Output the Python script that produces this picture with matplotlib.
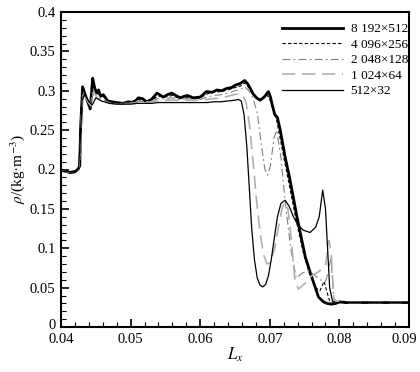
import numpy as np
import matplotlib
matplotlib.use("Agg")
import matplotlib.pyplot as plt
from matplotlib.ticker import MultipleLocator
from matplotlib.transforms import ScaledTranslation

plt.rcParams['font.family'] = ['Liberation Serif', 'DejaVu Serif']
plt.rcParams['mathtext.fontset'] = 'stix'

# ---- data ----
labels = ["8 192×512", "4 096×256", "2 048×128", "1 024×64", "512×32"]
x_ticks = [0.04, 0.05, 0.06, 0.07, 0.08, 0.09]
x_ticklabels = ['0.04', '0.05', '0.06', '0.07', '0.08', '0.09']
y_ticks = [0, 0.05, 0.1, 0.15, 0.2, 0.25, 0.3, 0.35, 0.4]
y_ticklabels = ['0', '0.05', '0.1', '0.15', '0.2', '0.25', '0.3', '0.35', '0.4']

x_8192 = [0.040, 0.041, 0.0413, 0.042, 0.0425, 0.0427, 0.0428, 0.0431, 0.0436, 0.0442, 0.04455,
          0.0448, 0.0451, 0.0454, 0.0457, 0.0461, 0.0467, 0.0473, 0.0480, 0.0489, 0.0497, 0.0505,
          0.0511, 0.0517, 0.0523, 0.0530, 0.0538, 0.0547, 0.0553, 0.0559, 0.0565, 0.0571, 0.0577,
          0.0582, 0.0590, 0.0600, 0.0609, 0.0617, 0.0624, 0.0631, 0.0638, 0.0645, 0.0650, 0.0657,
          0.0664, 0.0668, 0.0672, 0.0676, 0.0681, 0.0686, 0.0692, 0.0698, 0.0701, 0.0703, 0.0707,
          0.0711, 0.0715, 0.0722, 0.0729, 0.0739, 0.0751, 0.0760, 0.0770, 0.0777, 0.0782, 0.0788,
          0.0795, 0.0800, 0.0810, 0.0900]
y_8192 = [0.199, 0.197, 0.196, 0.197, 0.201, 0.205, 0.250, 0.305, 0.292, 0.277, 0.316,
          0.305, 0.297, 0.301, 0.293, 0.295, 0.287, 0.286, 0.285, 0.284, 0.286, 0.285,
          0.291, 0.290, 0.286, 0.289, 0.297, 0.292, 0.295, 0.297, 0.294, 0.291, 0.293,
          0.294, 0.291, 0.292, 0.299, 0.298, 0.301, 0.300, 0.303, 0.304, 0.307, 0.309,
          0.313, 0.309, 0.303, 0.296, 0.291, 0.288, 0.292, 0.299, 0.292, 0.284, 0.270,
          0.266, 0.250, 0.216, 0.187, 0.140, 0.089, 0.064, 0.038, 0.032, 0.030, 0.029,
          0.030, 0.032, 0.031, 0.031]

x_4096 = [0.040, 0.041, 0.042, 0.0425, 0.0427, 0.0429, 0.0432, 0.0437, 0.0442, 0.0446, 0.0449,
          0.0452, 0.0456, 0.0462, 0.0470, 0.0480, 0.0490, 0.0500, 0.0510, 0.0520, 0.0530, 0.0540,
          0.0550, 0.0560, 0.0570, 0.0580, 0.0590, 0.0600, 0.0610, 0.0620, 0.0630, 0.0640, 0.0650,
          0.0658, 0.0664, 0.0670, 0.0676, 0.0682, 0.0688, 0.0694, 0.0699, 0.0704, 0.0710, 0.0718,
          0.0728, 0.0738, 0.0748, 0.0758, 0.0766, 0.0772, 0.0778, 0.0782, 0.0786, 0.0792, 0.0800,
          0.0900]
y_4096 = [0.199, 0.197, 0.198, 0.201, 0.212, 0.280, 0.301, 0.290, 0.280, 0.310, 0.300,
          0.297, 0.294, 0.292, 0.286, 0.284, 0.284, 0.286, 0.289, 0.287, 0.288, 0.293,
          0.292, 0.294, 0.290, 0.292, 0.290, 0.291, 0.296, 0.298, 0.299, 0.301, 0.304,
          0.306, 0.310, 0.304, 0.295, 0.289, 0.289, 0.295, 0.292, 0.278, 0.262, 0.225,
          0.180, 0.135, 0.095, 0.065, 0.050, 0.046, 0.058, 0.045, 0.033, 0.030, 0.031,
          0.031]

x_2048 = [0.040, 0.041, 0.042, 0.0425, 0.0427, 0.0429, 0.0432, 0.0437, 0.0442, 0.0446, 0.0450,
          0.0455, 0.0462, 0.0470, 0.0480, 0.0490, 0.0500, 0.0510, 0.0520, 0.0530, 0.0540, 0.0550,
          0.0560, 0.0570, 0.0580, 0.0590, 0.0600, 0.0610, 0.0620, 0.0630, 0.0640, 0.0650, 0.0658,
          0.0664, 0.0670, 0.0676, 0.0682, 0.0688, 0.0693, 0.0697, 0.0701, 0.0706, 0.0710, 0.0716,
          0.0722, 0.0730, 0.0738, 0.0746, 0.0755, 0.0764, 0.0772, 0.0780, 0.0784, 0.0788, 0.0792,
          0.0800, 0.0900]
y_2048 = [0.198, 0.197, 0.198, 0.200, 0.210, 0.270, 0.299, 0.288, 0.281, 0.302, 0.294,
          0.291, 0.288, 0.285, 0.284, 0.284, 0.285, 0.287, 0.286, 0.287, 0.290, 0.290,
          0.291, 0.289, 0.290, 0.289, 0.289, 0.292, 0.294, 0.295, 0.297, 0.300, 0.302,
          0.305, 0.300, 0.290, 0.272, 0.230, 0.200, 0.193, 0.205, 0.240, 0.250, 0.215,
          0.160, 0.100, 0.062, 0.068, 0.072, 0.066, 0.060, 0.058, 0.070, 0.088, 0.035,
          0.031, 0.031]

x_1024 = [0.040, 0.041, 0.042, 0.0425, 0.0428, 0.0430, 0.0433, 0.0438, 0.0443, 0.0447, 0.0452,
          0.0460, 0.0470, 0.0480, 0.0490, 0.0500, 0.0510, 0.0520, 0.0530, 0.0540, 0.0550, 0.0560,
          0.0570, 0.0580, 0.0590, 0.0600, 0.0610, 0.0620, 0.0630, 0.0640, 0.0648, 0.0655, 0.0661,
          0.0666, 0.0671, 0.0676, 0.0681, 0.0686, 0.0691, 0.0696, 0.0701, 0.0707, 0.0713, 0.0718,
          0.0722, 0.0726, 0.0731, 0.0736, 0.0741, 0.0750, 0.0760, 0.0770, 0.0780, 0.0785, 0.0788,
          0.0792, 0.0800, 0.0900]
y_1024 = [0.198, 0.197, 0.198, 0.200, 0.230, 0.285, 0.298, 0.287, 0.281, 0.298, 0.291,
          0.287, 0.284, 0.283, 0.283, 0.284, 0.285, 0.285, 0.286, 0.287, 0.288, 0.288,
          0.288, 0.288, 0.288, 0.288, 0.289, 0.290, 0.291, 0.293, 0.295, 0.296, 0.294,
          0.285, 0.255, 0.210, 0.160, 0.120, 0.092, 0.080, 0.082, 0.100, 0.130, 0.152,
          0.158, 0.150, 0.110, 0.060, 0.048, 0.055, 0.065, 0.070, 0.078, 0.110, 0.095,
          0.035, 0.031, 0.031]

x_512 = [0.040, 0.041, 0.042, 0.0425, 0.0428, 0.0430, 0.0434, 0.0440, 0.0445, 0.0450, 0.0458,
         0.0470, 0.0480, 0.0490, 0.0500, 0.0510, 0.0520, 0.0530, 0.0540, 0.0550, 0.0560, 0.0570,
         0.0580, 0.0590, 0.0600, 0.0610, 0.0620, 0.0630, 0.0640, 0.0650, 0.0655, 0.0659, 0.0663,
         0.0667, 0.0671, 0.0674, 0.0678, 0.0682, 0.0686, 0.0690, 0.0694, 0.0698, 0.0702, 0.0706,
         0.0711, 0.0716, 0.0722, 0.0728, 0.0734, 0.0740, 0.0748, 0.0758, 0.0766, 0.0771, 0.0776,
         0.0780, 0.0783, 0.0786, 0.0790, 0.0795, 0.0900]
y_512 = [0.198, 0.197, 0.198, 0.200, 0.240, 0.287, 0.296, 0.286, 0.282, 0.291, 0.287,
         0.284, 0.283, 0.283, 0.283, 0.284, 0.284, 0.284, 0.285, 0.285, 0.285, 0.285,
         0.285, 0.285, 0.285, 0.285, 0.286, 0.286, 0.287, 0.288, 0.289, 0.287, 0.270,
         0.229, 0.170, 0.125, 0.085, 0.062, 0.053, 0.051, 0.054, 0.065, 0.085, 0.110,
         0.140, 0.157, 0.161, 0.153, 0.140, 0.130, 0.123, 0.120, 0.127, 0.140, 0.174,
         0.150, 0.100, 0.050, 0.033, 0.031, 0.031]

series = [
    (x_8192, y_8192, dict(color='black', lw=2.0, ls='-')),
    (x_4096, y_4096, dict(color='black', lw=0.8, ls=(0, (3, 2)))),
    (x_2048, y_2048, dict(color='#808080', lw=0.8, ls=(0, (7, 3, 1.5, 3)))),
    (x_1024, y_1024, dict(color='#b0b0b0', lw=1.2, ls=(0, (8, 4)))),
    (x_512, y_512, dict(color='black', lw=0.9, ls='-')),
]

fig = plt.figure(figsize=(4.2, 3.72), dpi=100)
ax = fig.add_axes([61/420, 1-327/372, 348/420, 315/372])

for (xs, ys, st), lab in zip(series, labels):
    ax.plot(xs, ys, label=lab, **st)

ax.set_xlim(0.04, 0.09)
ax.set_ylim(0, 0.4)
ax.set_xticks(x_ticks)
ax.set_xticklabels(x_ticklabels)
ax.set_yticks(y_ticks)
ax.set_yticklabels(y_ticklabels)
ax.xaxis.set_minor_locator(MultipleLocator(0.002))
ax.yaxis.set_minor_locator(MultipleLocator(0.01))

ax.tick_params(which='both', direction='in', top=False, right=False, labelsize=10.5)
ax.tick_params(which='major', length=6, width=1.2)
ax.tick_params(which='minor', length=3.5, width=0.8)
ax.tick_params(axis='x', pad=4)
ax.tick_params(axis='y', pad=4)
for s in ax.spines.values():
    s.set_linewidth(1.5)

# nudge the "0" y label up and the "0.09" x label left, as in the reference
lab0 = ax.get_yticklabels()[0]
lab0.set_transform(lab0.get_transform() + ScaledTranslation(0, 3/100, fig.dpi_scale_trans))
labx = ax.get_xticklabels()[-1]
labx.set_transform(labx.get_transform() + ScaledTranslation(-5/100, 0, fig.dpi_scale_trans))

ax.set_xlabel(r'$L_x$', fontsize=12, labelpad=0)
ax.set_ylabel(r'$\rho$/(kg·m$^{-3}$)', fontsize=11, labelpad=2)

leg = ax.legend(loc='upper left', bbox_to_anchor=(0.635, 0.965), frameon=False,
                fontsize=9.5, handlelength=4.6, handletextpad=0.6, labelspacing=0.25,
                borderpad=0, borderaxespad=0)

fig.savefig('out.png', dpi=100)
